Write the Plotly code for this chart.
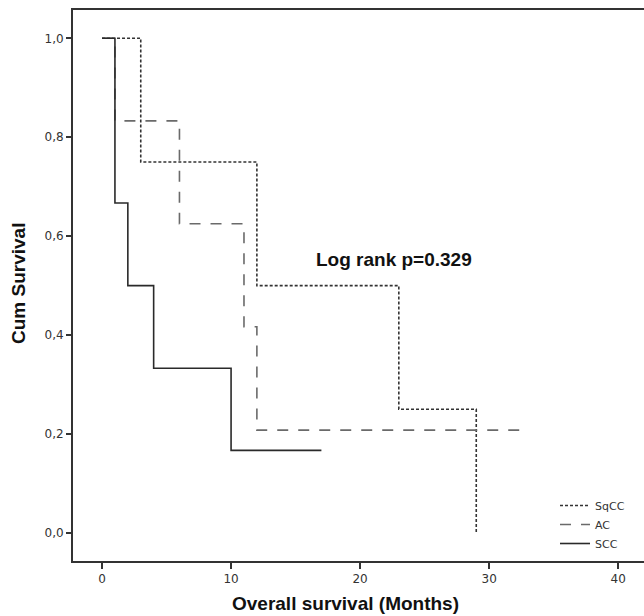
import plotly.graph_objects as go

# Kaplan-Meier step data (months, cumulative survival)
sqcc_t = [0, 3, 12, 23, 29]
sqcc_s = [1.0, 0.75, 0.5, 0.25, 0.0]

ac_t = [0, 1, 6, 11, 12, 33]
ac_s = [1.0, 0.833, 0.625, 0.417, 0.208, 0.208]

scc_t = [0, 1, 2, 4, 10, 17]
scc_s = [1.0, 0.667, 0.5, 0.333, 0.167, 0.167]

x_ticks = [0, 10, 20, 30, 40]
y_ticks = [0.0, 0.2, 0.4, 0.6, 0.8, 1.0]
y_ticklabels = ["0,0", "0,2", "0,4", "0,6", "0,8", "1,0"]

W, H = 644, 616
L, R, T, B = 73, 0, 10, 55
pw, ph = W - L - R, H - T - B

fig = go.Figure()
fig.add_trace(go.Scatter(x=sqcc_t, y=sqcc_s, mode="lines", name="SqCC",
                         line=dict(shape="hv", color="#333333", width=1.6, dash="3px,2px")))
fig.add_trace(go.Scatter(x=ac_t, y=ac_s, mode="lines", name="AC",
                         line=dict(shape="hv", color="#6a6a6a", width=1.6, dash="11px,10px")))
fig.add_trace(go.Scatter(x=scc_t, y=scc_s, mode="lines", name="SCC",
                         line=dict(shape="hv", color="#2a2a2a", width=1.6)))

fig.add_annotation(x=22.64, y=0.552, xref="x", yref="y", text="<b>Log rank p=0.329</b>",
                   showarrow=False, xanchor="center", yanchor="middle",
                   font=dict(family="Liberation Sans, Arial", size=19, color="#111111"))
fig.add_annotation(x=(345 - L) / pw, y=(H - B - 603) / ph, xref="paper", yref="paper",
                   text="<b>Overall survival (Months)</b>", showarrow=False,
                   xanchor="center", yanchor="middle",
                   font=dict(family="Liberation Sans, Arial", size=19, color="#111111"))
fig.add_annotation(x=(18 - L) / pw, y=(H - B - 284) / ph, xref="paper", yref="paper",
                   text="<b>Cum Survival</b>", textangle=-90, showarrow=False,
                   xanchor="center", yanchor="middle",
                   font=dict(family="Liberation Sans, Arial", size=19, color="#111111"))

fig.update_layout(
    width=W, height=H,
    margin=dict(l=L, r=R, t=T, b=B, pad=0),
    plot_bgcolor="white", paper_bgcolor="white",
    showlegend=True,
    legend=dict(x=(555 - L) / pw, y=(561 - 491) / ph, xanchor="left", yanchor="top",
                font=dict(family="DejaVu Sans", size=11, color="#333333"),
                bgcolor="rgba(0,0,0,0)", tracegroupgap=0, itemwidth=30),
    xaxis=dict(range=[-2.25, 42.0], tickvals=x_ticks, ticks="outside", ticklen=6, tickwidth=1.5,
               tickcolor="#333333", showline=True, linecolor="#333333", linewidth=1.8, mirror=True,
               showgrid=False, zeroline=False,
               tickfont=dict(family="DejaVu Sans", size=12, color="#333333")),
    yaxis=dict(range=[-0.0566, 1.0572], tickvals=y_ticks, ticktext=y_ticklabels, ticks="outside",
               ticklen=5, tickwidth=1.5, tickcolor="#333333", showline=True, linecolor="#333333",
               linewidth=1.8, showgrid=False, zeroline=False,
               tickfont=dict(family="DejaVu Sans", size=12, color="#333333")),
)

fig.write_html("out.html")
